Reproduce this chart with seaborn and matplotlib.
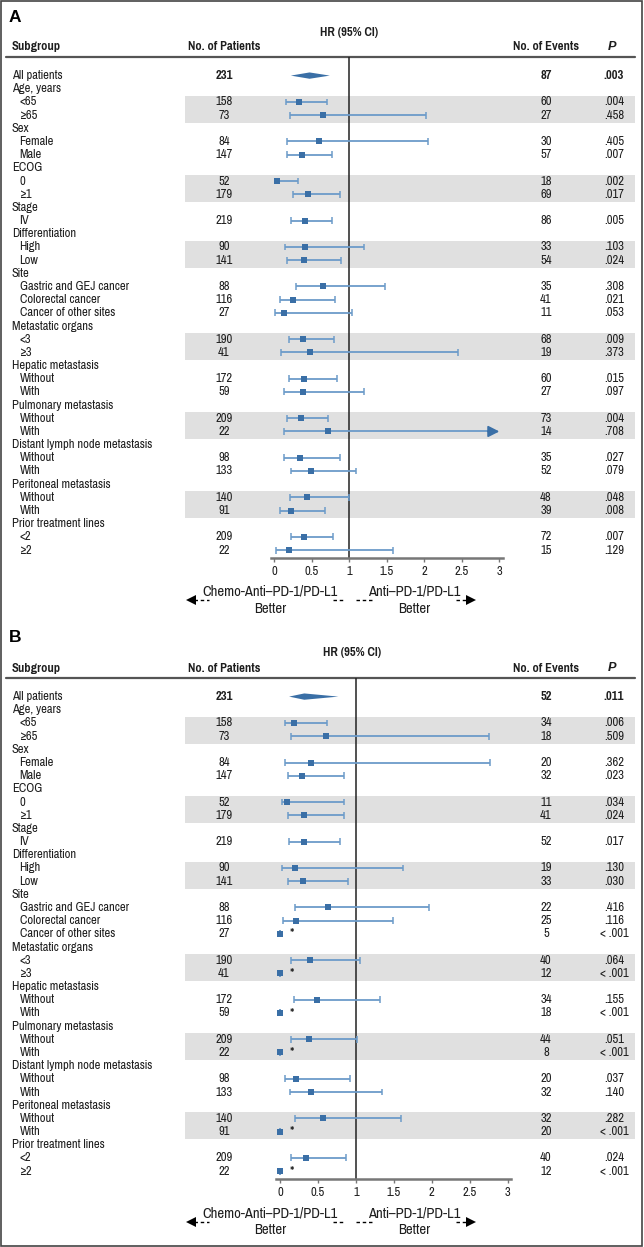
import numpy as np
import pandas as pd
import matplotlib.pyplot as plt
import matplotlib.font_manager as fm
import seaborn as sns

# ================================
# DATA
# ================================
groups = ["Age, years", "Sex", "ECOG", "Stage", "Differentiation", "Site",
          "Metastatic organs", "Hepatic metastasis", "Pulmonary metastasis",
          "Distant lymph node metastasis", "Peritoneal metastasis",
          "Prior treatment lines"]
levels = [["<65", "≥65"], ["Female", "Male"], ["0", "≥1"], ["IV"], ["High", "Low"],
          ["Gastric and GEJ cancer", "Colorectal cancer", "Cancer of other sites"],
          ["<3", "≥3"], ["Without", "With"], ["Without", "With"],
          ["Without", "With"], ["Without", "With"], ["<2", "≥2"]]

patients = [158, 73, 84, 147, 52, 179, 219, 90, 141, 88, 116, 27,
            190, 41, 172, 59, 209, 22, 98, 133, 140, 91, 209, 22]
all_patients = 231

# panel A
events_a = [60, 27, 30, 57, 18, 69, 86, 33, 54, 35, 41, 11,
            68, 19, 60, 27, 73, 14, 35, 52, 48, 39, 72, 15]
p_a = [".004", ".458", ".405", ".007", ".002", ".017", ".005", ".103", ".024",
       ".308", ".021", ".053", ".009", ".373", ".015", ".097", ".004", ".708",
       ".027", ".079", ".048", ".008", ".007", ".129"]
hr_a = [0.33, 0.65, 0.59, 0.37, 0.04, 0.45, 0.41, 0.41, 0.40, 0.65, 0.25, 0.13,
        0.38, 0.48, 0.39, 0.38, 0.35, 0.72, 0.34, 0.49, 0.44, 0.22, 0.40, 0.20]
lo_a = [0.15, 0.21, 0.17, 0.17, 0.01, 0.25, 0.22, 0.14, 0.17, 0.29, 0.07, 0.01,
        0.19, 0.09, 0.19, 0.13, 0.17, 0.13, 0.13, 0.22, 0.21, 0.07, 0.22, 0.02]
hi_a = [0.70, 2.02, 2.05, 0.77, 0.32, 0.87, 0.77, 1.20, 0.89, 1.48, 0.81, 1.03,
        0.79, 2.45, 0.83, 1.19, 0.72, 3.40, 0.88, 1.09, 0.99, 0.67, 0.78, 1.58]
all_events_a, all_p_a = 87, ".003"
all_hr_a, all_lo_a, all_hi_a = 0.47, 0.22, 0.74

# panel B
events_b = [34, 18, 20, 32, 11, 41, 52, 19, 33, 22, 25, 5,
            40, 12, 34, 18, 44, 8, 20, 32, 32, 20, 40, 12]
p_b = [".006", ".509", ".362", ".023", ".034", ".024", ".017", ".130", ".030",
       ".416", ".116", "< .001", ".064", "< .001", ".155", "< .001", ".051",
       "< .001", ".037", ".140", ".282", "< .001", ".024", "< .001"]
hr_b = [0.19, 0.60, 0.41, 0.29, 0.09, 0.31, 0.31, 0.20, 0.30, 0.63, 0.21, 0.0,
        0.40, 0.0, 0.49, 0.0, 0.38, 0.0, 0.21, 0.41, 0.57, 0.0, 0.34, 0.0]
lo_b = [0.06, 0.14, 0.07, 0.10, 0.02, 0.11, 0.12, 0.03, 0.11, 0.20, 0.04, 0.0,
        0.15, 0.0, 0.19, 0.0, 0.14, 0.0, 0.06, 0.13, 0.20, 0.0, 0.14, 0.0]
hi_b = [0.62, 2.75, 2.77, 0.85, 0.84, 0.85, 0.79, 1.62, 0.89, 1.97, 1.49, 0.0,
        1.06, 0.0, 1.32, 0.0, 1.02, 0.0, 0.92, 1.35, 1.60, 0.0, 0.87, 0.0]
all_events_b, all_p_b = 52, ".011"
all_hr_b, all_lo_b, all_hi_b = 0.32, 0.12, 0.77

# ================================
# STYLE
# ================================
sns.set_theme(style="white")


def pick_font(prefs):
    entries = fm.fontManager.ttflist
    for fam in prefs:
        ws = [f.weight for f in entries if f.name == fam and f.style == "normal"]
        ws = [w if isinstance(w, int) else (700 if w == "bold" else 400) for w in ws]
        if any(w <= 450 for w in ws) and any(w >= 600 for w in ws):
            return fam
    return "Liberation Sans"


base_font = pick_font(["Pragati Narrow", "Roboto Condensed", "PT Sans Narrow",
                       "Asap Condensed", "Barlow Semi Condensed", "Liberation Sans Narrow"])
plt.rcParams["font.family"] = [base_font, "DejaVu Sans"]

W, H = 644, 1247
TXT = "#1e1e1e"
SQ = "#3a6fa6"
CI = "#6c9bc9"
BAND = "#e0e0e0"

fig = plt.figure(figsize=(W / 100, H / 100), dpi=100)
fig.patch.set_facecolor("white")
renderer = fig.canvas.get_renderer()


def fit_size(text, width_px, weight="normal", start=8.0):
    t = fig.text(0, 0, text, fontsize=start, fontweight=weight)
    w = t.get_window_extent(renderer).width
    t.remove()
    return start * width_px / w


FS = fit_size("Distant lymph node metastasis", 141)
FS_FAV = fit_size("Chemo-Anti\u2013PD-1/PD-L1", 135, start=10)

# row layout (row index -> y)
head_rows, sub_rows, sub_labels = [], [], []
r = 1
for g, lv in zip(groups, levels):
    head_rows.append(r)
    r += 1
    for l in lv:
        sub_rows.append(r)
        sub_labels.append(l)
        r += 1

ROW_PX, TOP_PX = 13.18, 75.6


def row_of(px):
    return (px - TOP_PX) / ROW_PX


def draw_panel(ax, letter, x0, unit, events, pvals, hr, lo, hi,
               all_events, all_p, all_hr, all_lo, all_hi, hr_label_px):
    tx = ax.get_yaxis_transform()
    axis_row = row_of(558)
    head_line = row_of(57)

    # shaded bands for every other group
    for gi, lv in enumerate(levels):
        if gi % 2 == 0:
            first = head_rows[gi] + 1
            last = head_rows[gi] + len(lv)
            ax.axhspan(first - 0.48, last + 0.6, xmin=185 / W, xmax=635 / W,
                       color=BAND, lw=0, zorder=0)

    # header
    ax.text(9 / W, row_of(17), letter, transform=tx, fontsize=12.5,
            fontweight="bold", ha="left", va="center", color="black",
            family=["Liberation Sans", "DejaVu Sans"])
    ax.text(hr_label_px / W, row_of(32), "HR (95% CI)", transform=tx,
            fontsize=FS, fontweight="bold", ha="center", va="center", color=TXT)
    hy = row_of(47)
    ax.text(12 / W, hy, "Subgroup", transform=tx, fontsize=FS, fontweight="bold",
            ha="left", va="center", color=TXT)
    ax.text(224 / W, hy, "No. of Patients", transform=tx, fontsize=FS,
            fontweight="bold", ha="center", va="center", color=TXT)
    ax.text(546 / W, hy, "No. of Events", transform=tx, fontsize=FS,
            fontweight="bold", ha="center", va="center", color=TXT)
    ax.text(612 / W, hy, "P", transform=tx, fontsize=FS - 0.6, fontweight="bold",
            fontstyle="italic", ha="center", va="center", color=TXT,
            family=["Liberation Sans", "DejaVu Sans"])
    ax.axhline(head_line, xmin=6 / W, xmax=635 / W, color="#555555", lw=1.6)

    # reference line
    ax.vlines(1, head_line, axis_row, color="#222222", lw=1.1, zorder=2)

    # overall row
    ax.text(12 / W, 0, "All patients", transform=tx, fontsize=FS, ha="left",
            va="center", color=TXT)
    ax.text(224 / W, 0, str(all_patients), transform=tx, fontsize=FS,
            fontweight="bold", ha="center", va="center", color=TXT)
    ax.text(546 / W, 0, str(all_events), transform=tx, fontsize=FS,
            fontweight="bold", ha="center", va="center", color=TXT)
    ax.text(614 / W, 0, all_p, transform=tx, fontsize=FS, fontweight="bold",
            ha="center", va="center", color=TXT)
    ax.fill([all_lo, all_hr, all_hi, all_hr], [0, -0.24, 0, 0.24], color=SQ,
            lw=0, zorder=3)

    # group headers
    for g, rr in zip(groups, head_rows):
        ax.text(12 / W, rr, g, transform=tx, fontsize=FS, ha="left",
                va="center", color=TXT)

    # subgroup rows
    for i, rr in enumerate(sub_rows):
        ax.text(19.5 / W, rr, sub_labels[i], transform=tx, fontsize=FS,
                ha="left", va="center", color=TXT)
        ax.text(224 / W, rr, str(patients[i]), transform=tx, fontsize=FS,
                ha="center", va="center", color=TXT)
        ax.text(546 / W, rr, str(events[i]), transform=tx, fontsize=FS,
                ha="center", va="center", color=TXT)
        ax.text(614 / W, rr, pvals[i], transform=tx, fontsize=FS,
                ha="center", va="center", color=TXT)

        top = min(hi[i], 3.0)
        if hi[i] > 3.0:
            ax.hlines(rr, lo[i], 2.9, color=CI, lw=1.3, zorder=2)
            ax.annotate("", xy=(3.0, rr), xytext=(2.85, rr),
                        arrowprops=dict(arrowstyle="-|>,head_length=0.55,head_width=0.28",
                                        color=SQ, lw=1.3, shrinkA=0, shrinkB=0))
            ax.vlines(lo[i], rr - 0.26, rr + 0.26, color=CI, lw=1.1, zorder=2)
        else:
            ax.hlines(rr, lo[i], top, color=CI, lw=1.3, zorder=2)
            ax.vlines([lo[i], top], rr - 0.26, rr + 0.26, color=CI, lw=1.1, zorder=2)
        if hr[i] == 0 and hi[i] == 0:
            ax.text(hr[i] + 0.15, rr + 0.05, "*", fontsize=FS + 1, ha="center",
                    va="center", color=TXT)

    df = pd.DataFrame({"hr": hr, "row": sub_rows})
    sns.scatterplot(data=df, x="hr", y="row", marker="s", s=20, color=SQ,
                    linewidth=0, ax=ax, zorder=4, legend=False)

    # axis
    ax.set_xlim(-x0 / unit, (W - x0) / unit)
    ax.set_xlabel("")
    ax.set_ylabel("")
    ax.set_yticks([])
    for s in ["top", "left", "right"]:
        ax.spines[s].set_visible(False)
    ax.spines["bottom"].set_position(("data", axis_row))
    ax.spines["bottom"].set_bounds(-0.05, 3.05)
    ax.spines["bottom"].set_color("#777777")
    ax.spines["bottom"].set_linewidth(1.8)
    ax.set_xticks(np.arange(0, 3.01, 0.5))
    ax.set_xticklabels(["0", "0.5", "1", "1.5", "2", "2.5", "3"])
    ax.tick_params(axis="x", direction="out", length=3, width=1, color="#777777",
                   labelsize=FS, pad=2.5, labelcolor=TXT, bottom=True)

    # favour labels with dashed arrows (dash pieces peek out beside the text)
    ay = row_of(600.5)
    lx = (270 - x0) / unit
    rx = (414 - x0) / unit
    dash = (0, (2.5, 2))
    for a, b in [(194, 209), (333, 344), (356, 372), (456, 468)]:
        ax.plot([(a - x0) / unit, (b - x0) / unit], [ay, ay], ls=dash,
                color="black", lw=1.0, zorder=1)
    ax.plot([(191 - x0) / unit], [ay], marker="<", ms=6.5, color="black",
            mew=0, zorder=1)
    ax.plot([(471 - x0) / unit], [ay], marker=">", ms=6.5, color="black",
            mew=0, zorder=1)
    ax.text(lx, row_of(592), "Chemo-Anti\u2013PD-1/PD-L1", fontsize=FS_FAV,
            ha="center", va="center", color=TXT, zorder=5)
    ax.text(lx, row_of(609.5), "Better", fontsize=FS_FAV, ha="center",
            va="center", color=TXT, zorder=6)
    ax.text(rx, row_of(592), "Anti\u2013PD-1/PD-L1", fontsize=FS_FAV,
            ha="center", va="center", color=TXT, zorder=5)
    ax.text(rx, row_of(609.5), "Better", fontsize=FS_FAV, ha="center",
            va="center", color=TXT, zorder=6)


hA, hB = 621, 626
axA = fig.add_axes([0, 1 - hA / H, 1, hA / H])
axB = fig.add_axes([0, 0, 1, hB / H])
for a in (axA, axB):
    a.set_facecolor("none")

draw_panel(axA, "A", 274.3, 75.0, events_a, p_a, hr_a, lo_a, hi_a,
           all_events_a, all_p_a, all_hr_a, all_lo_a, all_hi_a, 349.5)
draw_panel(axB, "B", 280.0, 75.87, events_b, p_b, hr_b, lo_b, hi_b,
           all_events_b, all_p_b, all_hr_b, all_lo_b, all_hi_b, 352)

axA.set_ylim(row_of(hA), row_of(0))
axB.set_ylim(row_of(hB), row_of(0))

fig.add_artist(plt.Rectangle((0.8 / W, 0.8 / H), 1 - 2.4 / W, 1 - 2 / H,
                             transform=fig.transFigure, fill=False,
                             ec="#444444", lw=1.2))

fig.savefig("out.png", dpi=100, facecolor="white")
